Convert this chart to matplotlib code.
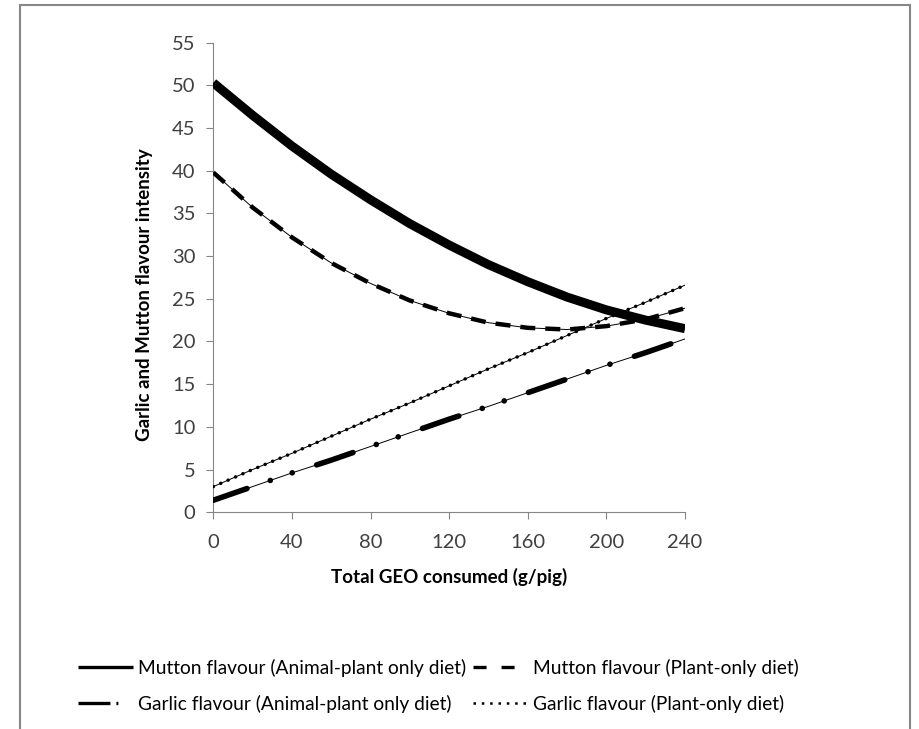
import matplotlib
matplotlib.use("Agg")
import matplotlib.pyplot as plt
from matplotlib.lines import Line2D
from matplotlib.patches import Rectangle

plt.rcParams["font.family"] = ["Lato", "DejaVu Sans"]
plt.rcParams["lines.scale_dashes"] = False

# GEO intake (g/pig) and fitted flavour scores
geo = [0, 20, 40, 60, 80, 100, 120, 140, 160, 180, 200, 220, 240]
mutton_animal_plant = [50.3, 46.5, 42.9, 39.6, 36.6, 33.8, 31.3, 29.0, 27.0, 25.2, 23.7, 22.5, 21.5]
mutton_plant_only = [39.8, 35.7, 32.2, 29.2, 26.8, 24.8, 23.3, 22.2, 21.6, 21.4, 21.8, 22.6, 23.9]
garlic_animal_plant = [1.4, 3.0, 4.6, 6.1, 7.7, 9.3, 10.9, 12.4, 14.0, 15.6, 17.2, 18.7, 20.3]
garlic_plant_only = [3.0, 5.0, 6.9, 8.9, 10.9, 12.8, 14.8, 16.8, 18.7, 20.7, 22.7, 24.6, 26.6]

series_labels = [
    "Mutton flavour (Animal-plant only diet)",
    "Mutton flavour (Plant-only diet)",
    "Garlic flavour (Animal-plant only diet)",
    "Garlic flavour (Plant-only diet)",
]
x_ticks = [0, 40, 80, 120, 160, 200, 240]
y_ticks = [0, 5, 10, 15, 20, 25, 30, 35, 40, 45, 50, 55]

AXIS_GREY = "#868686"
TEXT_GREY = "#404040"

fig = plt.figure(figsize=(9.19, 7.29), dpi=100)
ax = fig.add_axes([0.2321, 0.2974, 0.5133, 0.6440])

# thin trend lines under the styled ones
for vals in (mutton_plant_only, garlic_animal_plant, garlic_plant_only):
    ax.plot(geo, vals, color="black", lw=0.7, zorder=2)

ax.plot(geo, garlic_plant_only, color="black", lw=2.5,
        linestyle=(0, (0.1, 5.7)), dash_capstyle="round", zorder=3)
# long dash - dot - dot
ax.plot(geo, garlic_animal_plant, color="black", lw=4.0,
        linestyle=(2.0, (27.7, 17.7, 0.1, 16.6, 0.1, 18.4)),
        dash_capstyle="round", zorder=3)
ax.plot(geo, mutton_plant_only, color="black", lw=3.2,
        linestyle=(0, (10.8, 7.2)), dash_capstyle="butt", zorder=3)
ax.plot(geo, mutton_animal_plant, color="black", lw=6.5,
        solid_capstyle="butt", zorder=4)

ax.set_xlim(0, 240)
ax.set_ylim(0, 55)
ax.set_xticks(x_ticks)
ax.set_yticks(y_ticks)
for side in ("top", "right"):
    ax.spines[side].set_visible(False)
for side in ("left", "bottom"):
    ax.spines[side].set_color(AXIS_GREY)
    ax.spines[side].set_linewidth(0.8)
ax.tick_params(axis="both", direction="out", length=5, width=0.8,
               color=AXIS_GREY, labelcolor=TEXT_GREY, labelsize=14.5)
ax.tick_params(axis="x", pad=11)
ax.tick_params(axis="y", pad=8)

ax.set_xlabel("Total GEO consumed (g/pig)", fontsize=13.5, fontweight="bold",
              va="center")
ax.xaxis.set_label_coords(0.5, -0.138)
ax.set_ylabel("Garlic and Mutton flavour intensity", fontsize=13.5,
              fontweight="bold", va="center")
ax.yaxis.set_label_coords(-0.145, 0.463)

# legend samples
handles = [
    Line2D([], [], color="black", lw=2.4, solid_capstyle="butt"),
    Line2D([], [], color="black", lw=2.4, linestyle=(0, (9.4, 10.8)),
           dash_capstyle="butt"),
    Line2D([], [], color="black", lw=2.4, linestyle=(0, (23.0, 4.3, 1.4, 20.0)),
           dash_capstyle="butt"),
    Line2D([], [], color="black", lw=1.8, linestyle=(0, (1.8, 4.2)),
           dash_capstyle="butt"),
]
# legend fills column by column: reorder so rows read mutton, then garlic
order = [0, 2, 1, 3]
fs = 13.8
fig.legend([handles[i] for i in order], [series_labels[i] for i in order],
           ncol=2, frameon=False, fontsize=fs,
           loc="upper left", bbox_to_anchor=(78 / 919, 1 - 659 / 729),
           borderpad=0, borderaxespad=0, handlelength=39.6 / fs,
           handletextpad=3.6 / fs, columnspacing=5.0 / fs,
           labelspacing=0.93, labelcolor="black")

# outer chart frame
fig.add_artist(Rectangle((20 / 919, -0.05), 890 / 919, 0.05 + 1 - 5 / 729,
                         transform=fig.transFigure, fill=False,
                         edgecolor="#878787", lw=1.5, clip_on=False))

fig.savefig("out.png", dpi=100)
